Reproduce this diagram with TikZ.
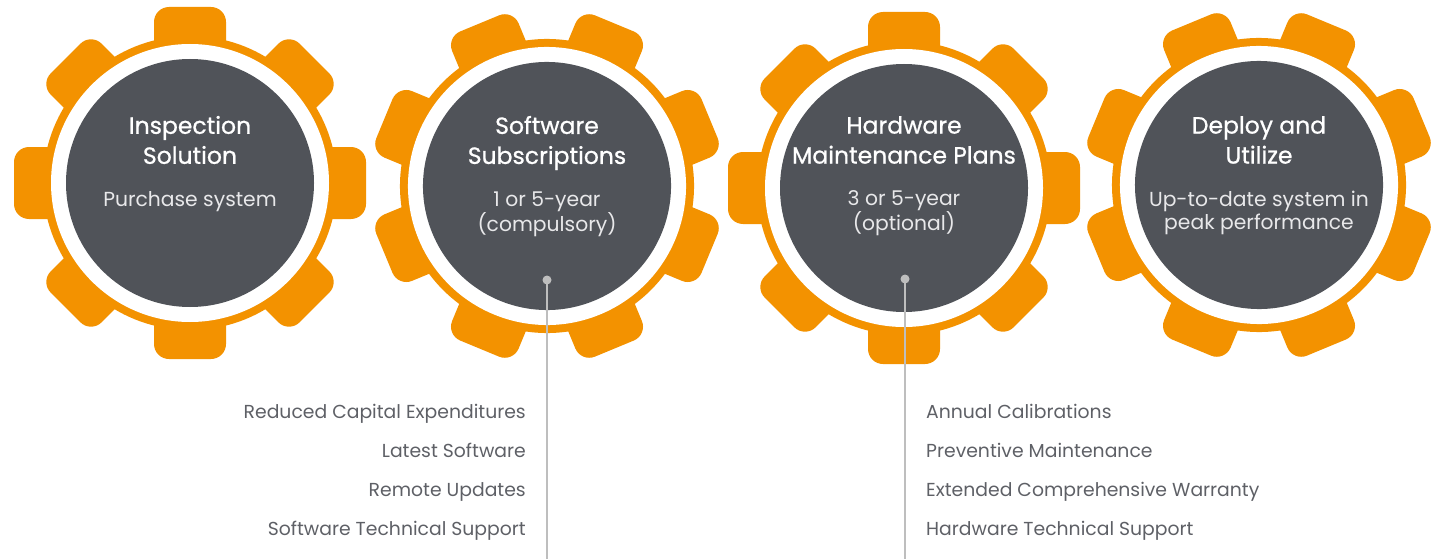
\documentclass[tikz,border=0pt]{standalone}
\usepackage{fontspec}
\setmainfont{Poppins}
\newfontfamily\titlefont[FakeBold=0.8]{Poppins}
\definecolor{gearorange}{HTML}{F39200}
\definecolor{geardark}{HTML}{505359}
\definecolor{bodywhite}{HTML}{E8E8EA}
\definecolor{listgray}{HTML}{5E6066}
\definecolor{linegray}{HTML}{BEBEBE}
\tikzset{
  gear title/.style={text=white, font=\titlefont\fontsize{23.5}{30}\selectfont, align=center, inner sep=0pt},
  gear text/.style={text=bodywhite, font=\fontsize{20.3}{23}\selectfont, align=center, inner sep=0pt},
  list item/.style={text=listgray, font=\fontsize{18.8}{20}\selectfont, inner sep=0pt},
  pin dot/.style={circle, fill=linegray, inner sep=0pt, minimum size=9pt},
  pin line/.style={draw=linegray, line width=2.5pt},
}
\newcommand{\drawgear}[3]{%
  \begin{scope}[shift={(#1,#2)}, rotate=#3]
    \fill[gearorange] (0,0) circle (147);
    \foreach \a in {0,45,...,315}
      \fill[gearorange, rounded corners=15pt, rotate=\a] (-36,110) -- (-36,176) -- (36,176) -- (36,110) -- cycle;
    \fill[white] (0,0) circle (139);
    \fill[geardark] (0,0) circle (124);
  \end{scope}}
\begin{document}
\begin{tikzpicture}[x=1pt, y=-1pt]
  \useasboundingbox (0,0) rectangle (1442,559);
  \drawgear{190}{183}{0}
  \drawgear{547}{186}{22.5}
  \drawgear{904}{188}{0}
  \drawgear{1259}{185}{22.5}

  \node[gear title] (inspect) at (190,140) {Inspection\\Solution};
  \node[gear text] (purchase) at (190,202) {Purchase system};
  \node[gear title] (software) at (547,143) {Software\\Subscriptions};
  \node[gear text] (swterm) at (547,214) {1 or 5-year\\(compulsory)};
  \node[gear title] (hardware) at (904,140) {Hardware\\Maintenance Plans};
  \node[gear text] (hwterm) at (904,213) {3 or 5-year\\(optional)};
  \node[gear title] (deploy) at (1259,140) {Deploy and\\Utilize};
  \node[gear text] (uptodate) at (1259,213) {Up-to-date system in\\peak performance};

  \coordinate (swend) at (547,559);
  \coordinate (hwend) at (905,559);
  \node[pin dot] (swdot) at (547,280) {};
  \node[pin dot] (hwdot) at (905,279) {};
  \draw[pin line] (swdot.center) -- (swend);
  \draw[pin line] (hwdot.center) -- (hwend);

  \foreach \t [count=\i] in {Reduced Capital Expenditures, Latest Software, Remote Updates, Software Technical Support}
    \node[list item, anchor=base east] (switem\i) at (526,379+39*\i) {\t};
  \foreach \t [count=\i] in {Annual Calibrations, Preventive Maintenance, Extended Comprehensive Warranty, Hardware Technical Support}
    \node[list item, anchor=base west] (hwitem\i) at (926,379+39*\i) {\t};
\end{tikzpicture}
\end{document}
